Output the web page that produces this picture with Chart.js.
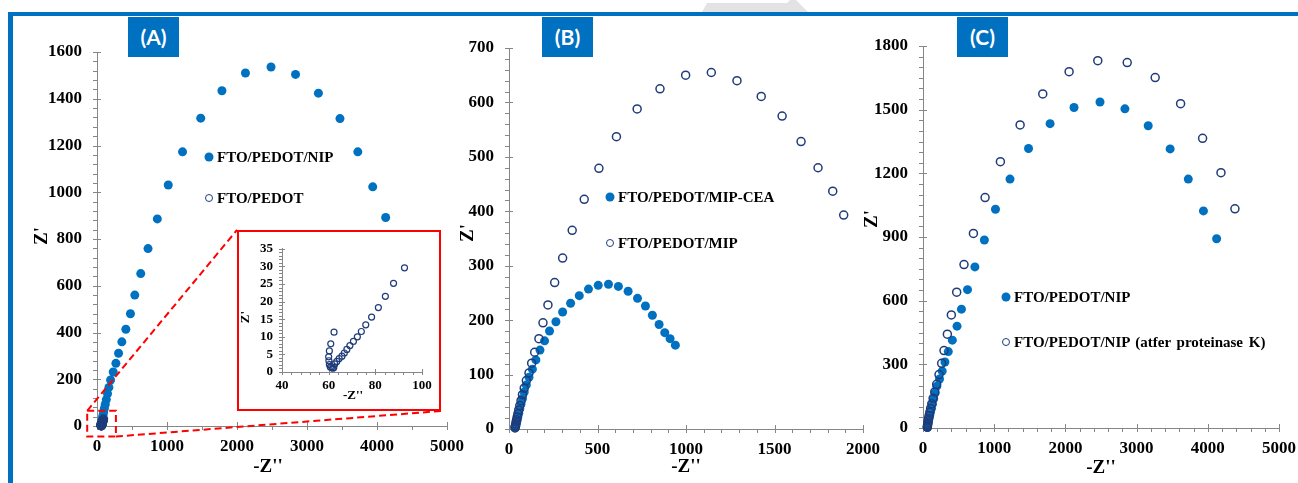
<!DOCTYPE html>
<html>
<head>
<meta charset="utf-8">
<script src="https://cdn.jsdelivr.net/npm/chart.js@4.4.0/dist/chart.umd.min.js"></script>
<style>
html, body { margin:0; padding:0; background:#fff; width:1298px; height:483px; overflow:hidden; }
#page { position:relative; width:1298px; height:483px; overflow:hidden; }
#page canvas { position:absolute; }
.frameTop { position:absolute; left:8px; top:12px; width:1290px; height:4px; background:#0070c0; }
.frameLeft { position:absolute; left:8px; top:12px; width:5px; height:471px; background:#0070c0; }
.arrow { position:absolute; left:700px; top:0; width:110px; height:12px; background:#e3e3e3;
  clip-path: polygon(2px 12px, 7px 3px, 87px 3px, 90px 0, 96px 0, 108px 12px); }
.tag { position:absolute; top:17px; width:51px; height:40px; background:#0070c0; color:#fff;
  font:bold 21px Lato, sans-serif; text-align:center; line-height:40px; }
.ttl { position:absolute; font:bold 19px 'Liberation Serif', serif; color:#000; white-space:nowrap;
  line-height:20px; transform:translate(-50%,-50%); }
.ttl.rot { transform:translate(-50%,-50%) rotate(-90deg); }
.ttl.small { font-size:13px; line-height:14px; }
.leg { position:absolute; font:bold 15px 'Liberation Serif', serif; color:#000; white-space:nowrap;
  line-height:16px; transform:translateY(-50%); }
.dot { position:absolute; width:9px; height:9px; border-radius:50%; background:#0070c0; transform:translate(-50%,-50%); }
.ring { position:absolute; width:6px; height:6px; border-radius:50%; border:1.5px solid #1f3c7a; background:#fff; transform:translate(-50%,-50%); }
#insetBox { position:absolute; left:237px; top:230px; width:204px; height:181px; border:2px solid #ff0000;
  box-sizing:border-box; background:#fff; }
#insetBox canvas { left:0; top:0; }
</style>
</head>
<body>
<div id="page">
  <div class="arrow"></div>
  <div class="frameTop"></div>
  <div class="frameLeft"></div>

  <canvas id="chartA" width="460" height="463" style="left:14px; top:20px;"></canvas>
  <canvas id="chartB" width="430" height="463" style="left:464px; top:20px;"></canvas>
  <canvas id="chartC" width="450" height="463" style="left:860px; top:20px;"></canvas>

  <div id="insetBox"><canvas id="chartInset" width="200" height="177"></canvas></div>

  <div class="tag" style="left:128px;">(A)</div>
  <div class="tag" style="left:542px;">(B)</div>
  <div class="tag" style="left:957px;">(C)</div>

  <!-- axis titles -->
  <div class="ttl rot" style="left:41px; top:236px;">Z'</div>
  <div class="ttl" style="left:268px; top:466px;">-Z''</div>
  <div class="ttl rot" style="left:467px; top:233px;">Z'</div>
  <div class="ttl" style="left:686px; top:466px;">-Z''</div>
  <div class="ttl rot" style="left:871px; top:219px;">Z'</div>
  <div class="ttl" style="left:1101px; top:467px;">-Z''</div>
  <div class="ttl rot small" style="left:245px; top:317px;">Z'</div>
  <div class="ttl small" style="left:353px; top:395px;">-Z''</div>

  <!-- legends -->
  <div class="dot" style="left:209px; top:157px;"></div>
  <div class="leg" style="left:217px; top:157px;">FTO/PEDOT/NIP</div>
  <div class="ring" style="left:209px; top:198px;"></div>
  <div class="leg" style="left:217px; top:198px;">FTO/PEDOT</div>

  <div class="dot" style="left:610px; top:197px;"></div>
  <div class="leg" style="left:618px; top:197px;">FTO/PEDOT/MIP-CEA</div>
  <div class="ring" style="left:610px; top:243px;"></div>
  <div class="leg" style="left:618px; top:243px;">FTO/PEDOT/MIP</div>

  <div class="dot" style="left:1006px; top:297px;"></div>
  <div class="leg" style="left:1014px; top:297px;">FTO/PEDOT/NIP</div>
  <div class="ring" style="left:1006px; top:342px;"></div>
  <div class="leg" style="left:1014px; top:342px; word-spacing:2px;">FTO/PEDOT/NIP (atfer proteinase K)</div>
</div>

<script>
// ---- data ----

// FTO/PEDOT/NIP (panel A and panel C)
var nipX = [61, 62, 63, 66, 69, 74, 80, 87, 95, 105, 118, 133, 150, 170, 194, 232, 270, 308, 355, 412, 478, 540, 625, 729, 862, 1018, 1222, 1482, 1785, 2121, 2486, 2836, 3163, 3471, 3726, 3939, 4124];
var nipY = [3, 6, 10, 15, 21, 29, 38, 48, 60, 75, 92, 113, 138, 165, 197, 231, 268, 311, 360, 414, 480, 560, 652, 759, 886, 1031, 1173, 1317, 1434, 1510, 1536, 1504, 1424, 1315, 1173, 1023, 892];

// FTO/PEDOT (panel A, seen in the inset)
var pedotX = [92.5, 87.8, 84.3, 81.3, 78.4, 75.9, 74.0, 72.3, 70.6, 69.1, 67.8, 66.7, 65.7, 64.5, 63.5, 62.6, 62.2, 61.8, 61.3, 60.7, 60.3, 60.1, 60.0, 60.3, 60.9, 62.3];
var pedotY = [29.6, 25.2, 21.5, 18.3, 15.6, 13.4, 11.5, 10.0, 8.7, 7.5, 6.4, 5.4, 4.5, 3.8, 3.0, 2.3, 1.3, 1.1, 1.4, 1.4, 2.1, 3.2, 4.3, 6.0, 8.0, 11.3];

// FTO/PEDOT/MIP-CEA (panel B)
var ceaX = [36, 38, 40, 43, 46, 50, 55, 61, 68, 76, 86, 98, 113, 132, 152, 175, 201, 229, 265, 303, 348, 397, 449, 504, 562, 618, 673, 726, 771, 810, 848, 880, 910, 940];
var ceaY = [3, 5, 8, 12, 16, 22, 29, 37, 46, 56, 68, 81, 95, 110, 127, 145, 162, 180, 197, 215, 231, 245, 257, 264, 266, 262, 253, 240, 226, 209, 192, 177, 166, 154];

// FTO/PEDOT/MIP (panel B)
var mipX = [34, 35, 36, 38, 40, 43, 46, 50, 55, 61, 68, 76, 86, 98, 113, 128, 145, 169, 192, 220, 258, 303, 357, 425, 508, 607, 724, 853, 998, 1143, 1288, 1425, 1543, 1650, 1746, 1829, 1891];
var mipY = [2, 4, 6, 9, 13, 17, 22, 28, 35, 43, 52, 63, 75, 89, 103, 121, 141, 166, 195, 228, 269, 314, 365, 422, 479, 537, 588, 625, 650, 655, 640, 611, 575, 528, 480, 437, 393];

// FTO/PEDOT/NIP (atfer proteinase K) (panel C)
var protX = [61, 62, 63, 65, 68, 72, 78, 85, 95, 107, 123, 142, 165, 192, 225, 262, 295, 342, 398, 473, 576, 708, 872, 1087, 1364, 1682, 2052, 2455, 2868, 3261, 3618, 3927, 4185, 4381];
var protY = [3, 6, 11, 17, 25, 34, 45, 58, 74, 92, 114, 140, 170, 206, 252, 305, 365, 442, 533, 640, 770, 917, 1086, 1255, 1428, 1574, 1679, 1731, 1722, 1651, 1528, 1365, 1203, 1033];

// tick labels (first and last give the axis range) and minor tick steps
var aXTicks = [0, 1000, 2000, 3000, 4000, 5000], aXMinor = 500;
var aYTicks = [0, 200, 400, 600, 800, 1000, 1200, 1400, 1600], aYMinor = 40;
var bXTicks = [0, 500, 1000, 1500, 2000], bXMinor = 100;
var bYTicks = [0, 100, 200, 300, 400, 500, 600, 700], bYMinor = 20;
var cXTicks = [0, 1000, 2000, 3000, 4000, 5000], cXMinor = 200;
var cYTicks = [0, 300, 600, 900, 1200, 1500, 1800], cYMinor = 50;
var inXTicks = [40, 60, 80, 100], inXMinor = 4;
var inYTicks = [0, 5, 10, 15, 20, 25, 30, 35], inYMinor = 1;

// zoomed region of panel A (data units)
var zoomX = [-140, 270];
var zoomY = [-45, 65];

// ---- drawing ----
var gray = '#868686';
var blue = '#0070c0';
var navy = '#1f3c7a';

function pts(xs, ys) {
  return xs.map(function (x, i) { return { x: x, y: ys[i] }; });
}

function filled(label, xs, ys) {
  return { label: label, data: pts(xs, ys), order: 1, clip: false,
    pointRadius: 4.5, pointBackgroundColor: blue, pointBorderColor: blue, pointBorderWidth: 0 };
}

function open(label, xs, ys, r) {
  return { label: label, data: pts(xs, ys), order: 0, clip: false,
    pointRadius: r || 4, pointBackgroundColor: 'rgba(255,255,255,0)', pointBorderColor: navy,
    pointBorderWidth: r ? 1.2 : 1.5 };
}

function scale(ticks, size, pad, fit) {
  return {
    type: 'linear',
    min: ticks[0],
    max: ticks[ticks.length - 1],
    border: { color: gray, width: 1 },
    grid: { display: false, drawTicks: false },
    ticks: {
      stepSize: ticks[1] - ticks[0], autoSkip: false, maxRotation: 0, minRotation: 0, padding: pad, color: '#000',
      font: { family: 'Liberation Serif', weight: 'bold', size: size },
      callback: function (v) { return ticks.indexOf(v) > -1 ? String(v) : ''; }
    },
    afterFit: fit
  };
}

// major ticks cross the axis line, minor ticks sit outside it
var tickMarks = {
  id: 'tickMarks',
  beforeDatasetsDraw: function (chart, args, o) {
    var ctx = chart.ctx, x = chart.scales.x, y = chart.scales.y, a = chart.chartArea;
    var L = o.len, v, p, major;
    ctx.save();
    ctx.strokeStyle = gray;
    ctx.lineWidth = 1;
    ctx.beginPath();
    for (v = o.xTicks[0]; v <= o.xTicks[o.xTicks.length - 1]; v += o.xMinor) {
      p = Math.round(x.getPixelForValue(v)) + 0.5;
      major = o.xTicks.indexOf(v) > -1;
      ctx.moveTo(p, Math.round(a.bottom) - (major ? L : 0));
      ctx.lineTo(p, Math.round(a.bottom) + L);
    }
    for (v = o.yTicks[0]; v <= o.yTicks[o.yTicks.length - 1]; v += o.yMinor) {
      p = Math.round(y.getPixelForValue(v)) + 0.5;
      major = o.yTicks.indexOf(v) > -1;
      ctx.moveTo(Math.round(a.left) - L, p);
      ctx.lineTo(Math.round(a.left) + (major ? L : 0), p);
    }
    ctx.stroke();
    ctx.restore();
  }
};

function makeChart(id, datasets, xs, ys, padding, marks, plugins) {
  return new Chart(document.getElementById(id).getContext('2d'), {
    type: 'scatter',
    data: { datasets: datasets },
    options: {
      responsive: false,
      animation: false,
      events: [],
      layout: { padding: padding },
      plugins: { legend: { display: false }, tooltip: { enabled: false }, tickMarks: marks },
      scales: { x: xs, y: ys }
    },
    plugins: [tickMarks].concat(plugins || [])
  });
}

// dashed red box round the origin of panel A, and lines out to the inset
var zoomLines = {
  id: 'zoomLines',
  afterDraw: function (chart) {
    var ctx = chart.ctx, x = chart.scales.x, y = chart.scales.y;
    var l = x.getPixelForValue(zoomX[0]), r = x.getPixelForValue(zoomX[1]);
    var t = y.getPixelForValue(zoomY[1]), b = y.getPixelForValue(zoomY[0]);
    var box = document.getElementById('insetBox');
    var cv = chart.canvas;
    var bl = box.offsetLeft - cv.offsetLeft, bt = box.offsetTop - cv.offsetTop;
    var br = bl + box.offsetWidth, bb = bt + box.offsetHeight;
    ctx.save();
    ctx.strokeStyle = '#ff0000';
    ctx.lineWidth = 2;
    ctx.setLineDash([7, 4]);
    ctx.strokeRect(l, t, r - l, b - t);
    ctx.beginPath();
    ctx.moveTo(l, t); ctx.lineTo(bl, bt);
    ctx.moveTo(r, b); ctx.lineTo(br, bb);
    ctx.stroke();
    ctx.restore();
  }
};

// panel A
makeChart('chartA',
  [filled('FTO/PEDOT/NIP', nipX, nipY), open('FTO/PEDOT', pedotX, pedotY)],
  scale(aXTicks, 17, 10, function (s) { s.height = 30; }),
  scale(aYTicks, 17, 15, function (s) { s.width = 83; }),
  { left: 0, right: 25, top: 32, bottom: 27 },
  { len: 4, xTicks: aXTicks, xMinor: aXMinor, yTicks: aYTicks, yMinor: aYMinor },
  [zoomLines]);

// panel A inset
makeChart('chartInset',
  [open('FTO/PEDOT', pedotX, pedotY, 3)],
  scale(inXTicks, 13, 6, function (s) { s.height = 24; }),
  scale(inYTicks, 13, 9, function (s) { s.width = 43; }),
  { left: 0, right: 17, top: 13, bottom: 13 },
  { len: 3, xTicks: inXTicks, xMinor: inXMinor, yTicks: inYTicks, yMinor: inYMinor });

// panel B
makeChart('chartB',
  [filled('FTO/PEDOT/MIP-CEA', ceaX, ceaY), open('FTO/PEDOT/MIP', mipX, mipY)],
  scale(bXTicks, 17, 10, function (s) { s.height = 30; }),
  scale(bYTicks, 17, 15, function (s) { s.width = 45; }),
  { left: 0, right: 31, top: 28, bottom: 24 },
  { len: 4, xTicks: bXTicks, xMinor: bXMinor, yTicks: bYTicks, yMinor: bYMinor });

// panel C
makeChart('chartC',
  [filled('FTO/PEDOT/NIP', nipX, nipY), open('FTO/PEDOT/NIP (atfer proteinase K)', protX, protY)],
  scale(cXTicks, 17, 10, function (s) { s.height = 30; }),
  scale(cYTicks, 17, 15, function (s) { s.width = 63; }),
  { left: 0, right: 31, top: 26, bottom: 25 },
  { len: 4, xTicks: cXTicks, xMinor: cXMinor, yTicks: cYTicks, yMinor: cYMinor });
</script>
</body>
</html>
